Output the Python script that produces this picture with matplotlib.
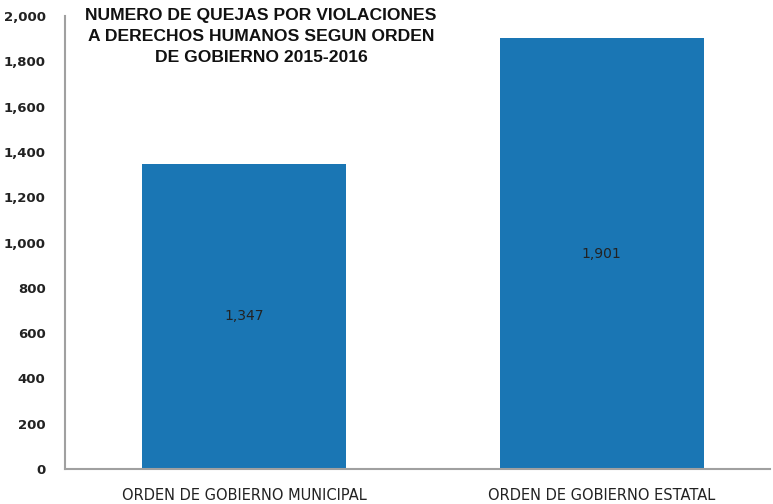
import matplotlib.pyplot as plt
from matplotlib.ticker import FuncFormatter

categorias = ['ORDEN DE GOBIERNO MUNICIPAL', 'ORDEN DE GOBIERNO ESTATAL']
quejas = [1347, 1901]
titulo = 'NUMERO DE QUEJAS POR VIOLACIONES\nA DERECHOS HUMANOS SEGUN ORDEN\nDE GOBIERNO 2015-2016'

fig = plt.figure(figsize=(7.73, 5.04), dpi=100)
ax = fig.add_axes([65/773, 35/504, (770-65)/773, (469-16)/504])

x = list(range(len(categorias)))
bars = ax.bar(x, quejas, width=0.571, color='#1a76b4')

for b, v in zip(bars, quejas):
    ax.text(b.get_x() + b.get_width()/2, v/2, f'{v:,}', ha='center', va='center',
            fontsize=10, color='#222222')

ax.set_xlim(-0.5, 1.47)
ax.set_ylim(0, 2000)
ax.set_yticks(range(0, 2001, 200))
ax.yaxis.set_major_formatter(FuncFormatter(lambda v, p: f'{int(v):,}'))
ax.set_xticks(x)
ax.set_xticklabels(categorias, fontsize=10.5, color='#222222')
ax.tick_params(axis='both', length=0)
ax.tick_params(axis='y', pad=14, labelsize=9.5, labelcolor='#222222')
ax.tick_params(axis='x', pad=14)
for lbl in ax.get_yticklabels():
    lbl.set_fontweight('bold')

for s in ['top', 'right']:
    ax.spines[s].set_visible(False)
ax.spines['left'].set_color('#a0a0a0')
ax.spines['bottom'].set_color('#a0a0a0')
ax.spines['left'].set_linewidth(1.5)
ax.spines['bottom'].set_linewidth(1.5)

fig.text(261/773, 1 - 8/504, titulo, ha='center', va='top', fontsize=12.6,
         fontweight='bold', family='Liberation Sans', color='#111111', linespacing=1.52)

plt.savefig('out.png', dpi=100)
